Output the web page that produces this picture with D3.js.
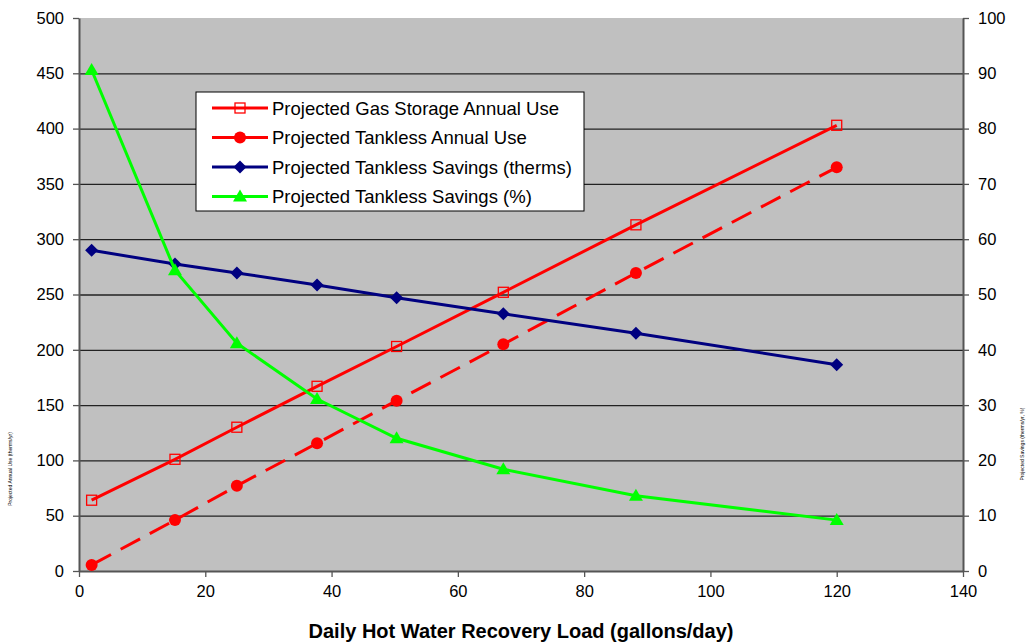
<!DOCTYPE html>
<html>
<head>
<meta charset="utf-8">
<script src="https://cdn.jsdelivr.net/npm/d3@7"></script>
<style>
  body { margin: 0; background: #fff; }
  svg text { font-family: "Liberation Sans", Arial, sans-serif; }
</style>
</head>
<body>
<div class="chart"></div>
<script>
// data
const loads = [2, 15.2, 25, 37.7, 50.3, 67.2, 88.2, 120];
const gasStorageUse = [64, 101, 130, 167, 203, 252, 313, 403];
const tanklessUse = [5.5, 46, 77, 115.5, 154, 205, 269.5, 365];
const savingsTherms = [58, 55.5, 53.9, 51.7, 49.4, 46.5, 43, 37.3]; // right axis
const savingsPct = [90.6, 54.4, 41.2, 31.1, 24, 18.4, 13.6, 9.2];   // right axis

const xTicks = [0, 20, 40, 60, 80, 100, 120, 140];
const leftTicks = [0, 50, 100, 150, 200, 250, 300, 350, 400, 450, 500];
const rightTicks = [0, 10, 20, 30, 40, 50, 60, 70, 80, 90, 100];

const legendNames = ["Projected Gas Storage Annual Use", "Projected Tankless Annual Use",
  "Projected Tankless Savings (therms)", "Projected Tankless Savings (%)"];

const W = 1027, H = 643;
const margin = {top: 18, right: 64, bottom: 72, left: 79};
const width = W - margin.left - margin.right, height = H - margin.top - margin.bottom;

const svg = d3.select(".chart").append("svg").attr("width", W).attr("height", H);
const g = svg.append("g").attr("transform", `translate(${margin.left},${margin.top})`);

const x = d3.scaleLinear().domain([0, 140]).range([0, width]);
const yL = d3.scaleLinear().domain([0, 500]).range([height, 0]);
const yR = d3.scaleLinear().domain([0, 100]).range([height, 0]);

g.append("rect").attr("width", width).attr("height", height).attr("fill", "#c0c0c0");

// grid
g.selectAll(".grid").data(leftTicks.slice(1, -1)).enter().append("line")
  .attr("x1", 0).attr("x2", width)
  .attr("y1", d => yL(d) + 0.5).attr("y2", d => yL(d) + 0.5)
  .attr("stroke", "#222").attr("stroke-width", 1.3);

const fmtAxis = sel => {
  sel.select(".domain").attr("stroke", "#555").attr("stroke-width", 2);
  sel.selectAll(".tick line").attr("stroke", "#555").attr("stroke-width", 1.3);
  sel.selectAll("text").attr("font-size", 16.5).attr("fill", "#000")
    .attr("font-family", "Liberation Sans, Arial, sans-serif");
};

g.append("g").attr("transform", `translate(0,${height})`)
  .call(d3.axisBottom(x).tickValues(xTicks).tickSize(6).tickSizeOuter(0).tickPadding(8))
  .call(fmtAxis);
g.append("g")
  .call(d3.axisLeft(yL).tickValues(leftTicks).tickSize(6).tickSizeOuter(0).tickPadding(9))
  .call(fmtAxis);
g.append("g").attr("transform", `translate(${width},0)`)
  .call(d3.axisRight(yR).tickValues(rightTicks).tickSize(6).tickSizeOuter(0).tickPadding(9))
  .call(fmtAxis);

// axis titles
svg.append("text").attr("x", 521).attr("y", 638)
  .attr("text-anchor", "middle").attr("font-size", 20).attr("font-weight", "bold")
  .text("Daily Hot Water Recovery Load (gallons/day)");
svg.append("text").attr("transform", "translate(12,469) rotate(-90)")
  .attr("text-anchor", "middle").attr("font-size", 5).text("Projected Annual Use (therms/yr)");
svg.append("text").attr("transform", "translate(1024,444) rotate(-90)")
  .attr("text-anchor", "middle").attr("font-size", 5).text("Projected Savings (therms/yr, %)");

const series = [
  {vals: gasStorageUse, y: yL, color: "#ff0000", dash: null, marker: "square"},
  {vals: tanklessUse, y: yL, color: "#ff0000", dash: "22,11", marker: "circle"},
  {vals: savingsTherms, y: yR, color: "#000080", dash: null, marker: "diamond"},
  {vals: savingsPct, y: yR, color: "#00ff00", dash: null, marker: "triangle"}
];

function drawMarker(sel, type, color) {
  if (type === "square") {
    sel.append("rect").attr("x", -5).attr("y", -5).attr("width", 10).attr("height", 10)
      .attr("fill", "none").attr("stroke", color).attr("stroke-width", 1.3);
  } else if (type === "circle") {
    sel.append("circle").attr("r", 6).attr("fill", color);
  } else if (type === "diamond") {
    sel.append("path").attr("d", "M0,-6.5L6.5,0L0,6.5L-6.5,0Z").attr("fill", color);
  } else {
    sel.append("path").attr("d", "M0,-7L7,5L-7,5Z").attr("fill", color);
  }
}

series.forEach(s => {
  const line = d3.line().x((d, i) => x(loads[i])).y(d => s.y(d));
  g.append("path").datum(s.vals).attr("d", line).attr("fill", "none")
    .attr("stroke", s.color).attr("stroke-width", 3)
    .attr("stroke-dasharray", s.dash);
  g.selectAll(null).data(s.vals).enter().append("g")
    .attr("transform", (d, i) => `translate(${x(loads[i])},${s.y(d)})`)
    .each(function () { drawMarker(d3.select(this), s.marker, s.color); });
});

// legend
const lg = svg.append("g").attr("transform", "translate(196,92)");
lg.append("rect").attr("width", 388).attr("height", 119)
  .attr("fill", "#fff").attr("stroke", "#000").attr("stroke-width", 1);
series.forEach((s, i) => {
  const yy = 16 + i * 29.5;
  lg.append("line").attr("x1", 16).attr("x2", 72).attr("y1", yy).attr("y2", yy)
    .attr("stroke", s.color).attr("stroke-width", 3);
  drawMarker(lg.append("g").attr("transform", `translate(44,${yy})`), s.marker, s.color);
  lg.append("text").attr("x", 76).attr("y", yy + 6.5).attr("font-size", 18.5)
    .text(legendNames[i]);
});
</script>
</body>
</html>
